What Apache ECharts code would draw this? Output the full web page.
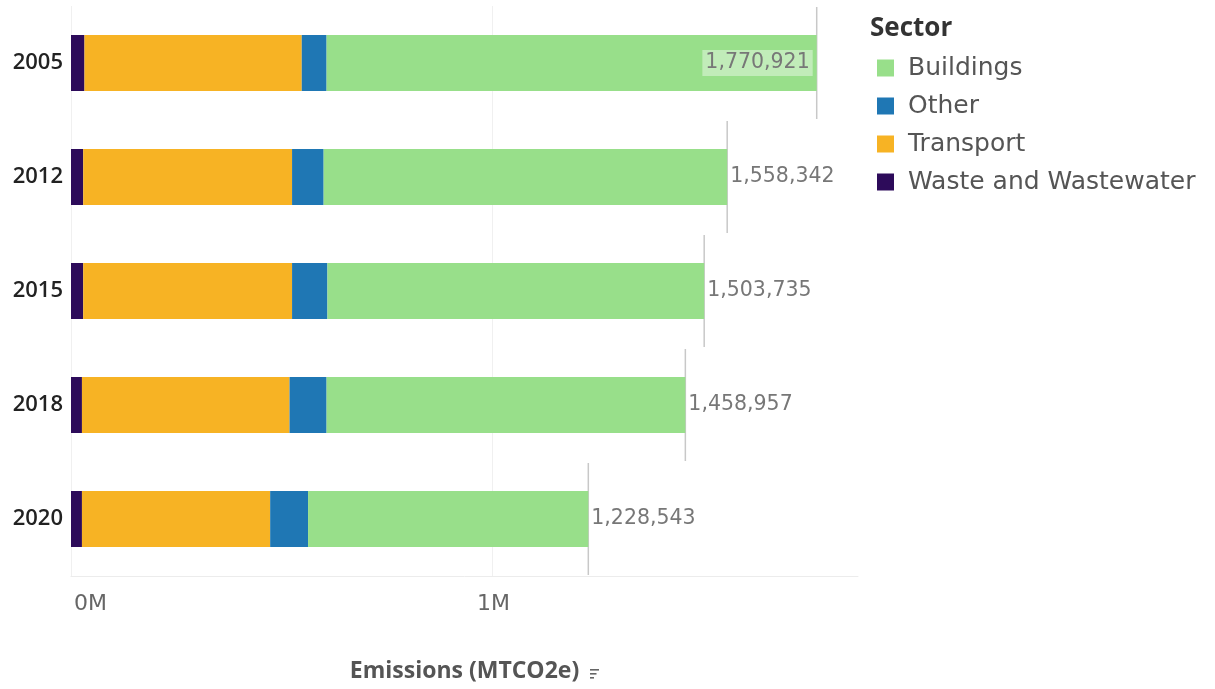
<!DOCTYPE html>
<html><head><meta charset="utf-8">
<script src="https://cdn.jsdelivr.net/npm/echarts@6/dist/echarts.min.js"></script>
<style>html,body{margin:0;padding:0;background:#fff}#c{width:1215px;height:689px}</style>
</head><body><div id="c"></div>
<script>
const years = ['2005', '2012', '2015', '2018', '2020'];
const waste = [32000, 29000, 29000, 26000, 26000];
const transport = [516000, 496000, 496000, 493000, 447000];
const other = [59000, 75000, 84000, 88000, 90000];
const buildings = [1163921, 958342, 894735, 851957, 665543];
const totals = [1770921, 1558342, 1503735, 1458957, 1228543];
const tickValues = [0, 1000000];
const tickLabels = ['0M', '1M'];
const sectorNames = ['Buildings', 'Other', 'Transport', 'Waste and Wastewater'];
const colors = { 'Buildings': '#98df8a', 'Other': '#1f77b4', 'Transport': '#f7b324', 'Waste and Wastewater': '#2d0b5a' };

const FONT = 'Open Sans';
const WIDE = 'DejaVu Sans';
const chart = echarts.init(document.getElementById('c'));

function barSeries(name, values) {
  return {
    name: name, type: 'bar', stack: 'total', barWidth: 56,
    itemStyle: { color: colors[name] }, emphasis: { disabled: true },
    data: values
  };
}
const fmt = v => v.toLocaleString('en-US');
const buildingsData = buildings.map((v, i) => ({
  value: v,
  label: i === 0 ? {
    show: true, position: 'insideRight', distance: 4,
    formatter: () => fmt(totals[i]),
    color: '#777', fontFamily: WIDE, fontSize: 20.5,
    backgroundColor: 'rgba(255,255,255,0.4)', padding: [3, 3, 2, 3]
  } : {
    show: true, position: 'right', distance: 3,
    formatter: () => fmt(totals[i]),
    color: '#777', fontFamily: WIDE, fontSize: 20.5
  }
}));

chart.setOption({
  animation: false,
  textStyle: { fontFamily: FONT },
  title: { text: 'Sector', left: 865, top: 11, textStyle: { fontFamily: FONT, fontSize: 26, fontWeight: 'bold', color: '#333' } },
  legend: {
    orient: 'vertical', left: 877, top: 54, padding: 0, icon: 'rect', itemWidth: 17, itemHeight: 17, itemGap: 10,
    data: sectorNames, selectedMode: false,
    textStyle: { fontFamily: WIDE, fontSize: 25, color: '#555', lineHeight: 28, padding: [0, 0, 0, 9] }
  },
  grid: { left: 71, right: 357, top: 6, bottom: 113, outerBoundsMode: 'none' },
  xAxis: {
    type: 'value', min: 0, max: 1869000, interval: 1000000,
    name: 'Emissions (MTCO2e)', nameLocation: 'middle', nameGap: 84,
    nameTextStyle: { fontFamily: FONT, fontSize: 23, fontWeight: 'bold', color: '#555' },
    axisLine: { show: true, lineStyle: { color: '#ececec', width: 1 } },
    axisTick: { show: false },
    axisLabel: {
      color: '#666', fontFamily: WIDE, fontSize: 22, margin: 17, alignMinLabel: 'left', showMaxLabel: false,
      padding: [0, 0, 0, 3],
      formatter: v => { const k = tickValues.indexOf(v); return k >= 0 ? tickLabels[k] : ''; }
    },
    splitLine: { show: true, showMaxLine: false, lineStyle: { color: '#f0f0f0', width: 1 } }
  },
  yAxis: {
    type: 'category', inverse: true, data: years,
    axisLine: { show: false }, axisTick: { show: false },
    axisLabel: { color: '#222', fontFamily: FONT, fontSize: 22, fontWeight: 600, margin: 8 }
  },
  series: [
    barSeries('Waste and Wastewater', waste),
    barSeries('Transport', transport),
    barSeries('Other', other),
    barSeries('Buildings', buildingsData),
    {
      type: 'custom', name: 'ref', silent: true, z: 1,
      encode: { x: 0, y: 1 },
      data: totals.map((t, i) => [t, i]),
      renderItem: function (params, api) {
        const p = api.coord([api.value(0), api.value(1)]);
        const band = api.size([0, 1])[1];
        return {
          type: 'line',
          shape: { x1: p[0], y1: p[1] - band / 2 + 1, x2: p[0], y2: p[1] + band / 2 - 1 },
          style: { stroke: '#c8c8c8', lineWidth: 1.5 }
        };
      }
    }
  ],
  graphic: [{
    type: 'group', left: 590, top: 669,
    children: [
      { type: 'rect', shape: { x: 0, y: 0, width: 9, height: 1.6 }, style: { fill: '#666' } },
      { type: 'rect', shape: { x: 0, y: 4, width: 6.5, height: 1.6 }, style: { fill: '#666' } },
      { type: 'rect', shape: { x: 0, y: 8, width: 4, height: 1.6 }, style: { fill: '#666' } }
    ]
  }]
});
</script></body></html>
